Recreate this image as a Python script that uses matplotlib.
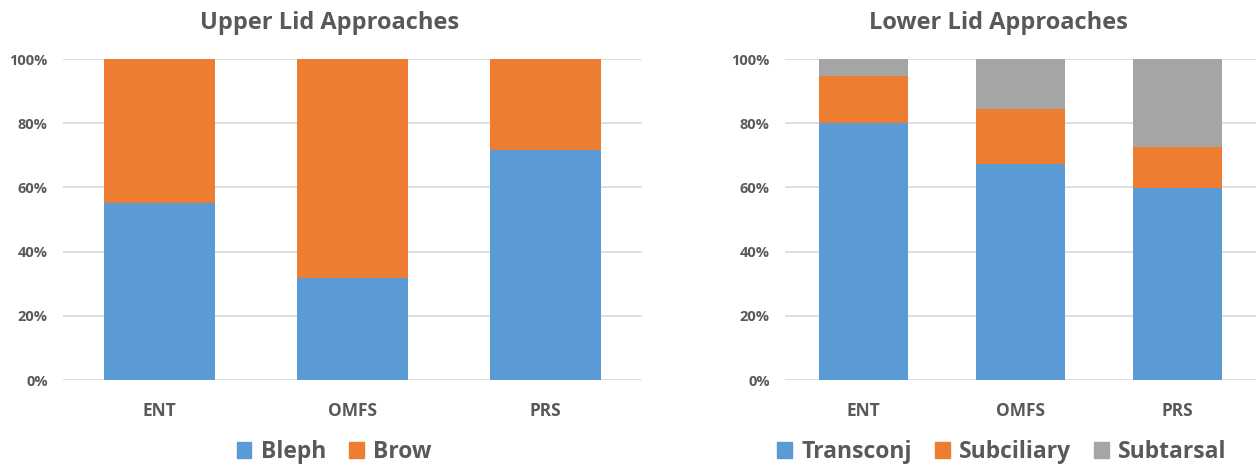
import matplotlib
matplotlib.use("Agg")
import matplotlib.pyplot as plt
from matplotlib.patches import Patch
from matplotlib.ticker import PercentFormatter

plt.rcParams['font.family'] = ['Open Sans', 'DejaVu Sans']

groups = ["ENT", "OMFS", "PRS"]

upper_labels = ["Bleph", "Brow"]
upper_bleph = [55.0, 31.7, 71.5]
upper_brow = [45.0, 68.3, 28.5]

lower_labels = ["Transconj", "Subciliary", "Subtarsal"]
lower_transconj = [80.2, 67.2, 59.9]
lower_subciliary = [14.5, 17.1, 12.8]
lower_subtarsal = [5.3, 15.7, 27.3]

y_ticks = [0, 20, 40, 60, 80, 100]

BLUE = "#5B9BD5"
ORANGE = "#ED7D31"
GRAY = "#A5A5A5"
TEXT = "#595959"
GRID = "#D9D9D9"

W, H = 1256, 467
fig = plt.figure(figsize=(W / 100, H / 100), dpi=100)

ax_up = fig.add_axes([63 / W, 1 - 380 / H, 579 / W, 321 / H])
ax_lo = fig.add_axes([785 / W, 1 - 380 / H, 471 / W, 321 / H])


def style_axes(ax):
    ax.set_xlim(-0.5, len(groups) - 0.5)
    ax.set_ylim(0, 100)
    ax.set_yticks(y_ticks)
    ax.yaxis.set_major_formatter(PercentFormatter(decimals=0))
    ax.set_xticks(range(len(groups)))
    ax.set_xticklabels(groups)
    for s in ax.spines.values():
        s.set_visible(False)
    ax.grid(axis="y", color=GRID, linewidth=1.2, zorder=0)
    ax.set_axisbelow(True)
    ax.tick_params(axis="y", length=0, pad=11, labelsize=10.5, labelcolor=TEXT)
    ax.tick_params(axis="x", length=0, pad=16, labelsize=12.5, labelcolor=TEXT)
    for lbl in ax.get_yticklabels():
        lbl.set_fontweight("bold")
    for lbl in ax.get_xticklabels():
        lbl.set_fontweight("bold")


x = range(len(groups))
bw = 0.57

# Upper lid: two stacked segments
ax_up.bar(x, upper_bleph, width=bw, color=BLUE, zorder=2)
ax_up.bar(x, upper_brow, width=bw, bottom=upper_bleph, color=ORANGE, zorder=2)
style_axes(ax_up)

# Lower lid: three stacked segments
base2 = [a + b for a, b in zip(lower_transconj, lower_subciliary)]
ax_lo.bar(x, lower_transconj, width=bw, color=BLUE, zorder=2)
ax_lo.bar(x, lower_subciliary, width=bw, bottom=lower_transconj, color=ORANGE, zorder=2)
ax_lo.bar(x, lower_subtarsal, width=bw, bottom=base2, color=GRAY, zorder=2)
style_axes(ax_lo)

fig.text(330 / W, 1 - 23 / H, "Upper Lid Approaches", ha="center", va="center",
         fontsize=17, fontweight="bold", color=TEXT)
fig.text(998 / W, 1 - 23 / H, "Lower Lid Approaches", ha="center", va="center",
         fontsize=17, fontweight="bold", color=TEXT)

leg_kw = dict(loc="center", frameon=False, handlelength=0.65, handleheight=0.65,
              handletextpad=0.4, borderaxespad=0,
              prop={"size": 16.5, "weight": "bold"}, labelcolor=TEXT)

fig.legend([Patch(color=c) for c in (BLUE, ORANGE)], upper_labels, ncol=2,
           columnspacing=1.0, bbox_to_anchor=(334 / W, 1 - 452 / H), **leg_kw)
fig.legend([Patch(color=c) for c in (BLUE, ORANGE, GRAY)], lower_labels, ncol=3,
           columnspacing=1.0, bbox_to_anchor=(1002 / W, 1 - 452 / H), **leg_kw)

fig.savefig("out.png", dpi=100)
